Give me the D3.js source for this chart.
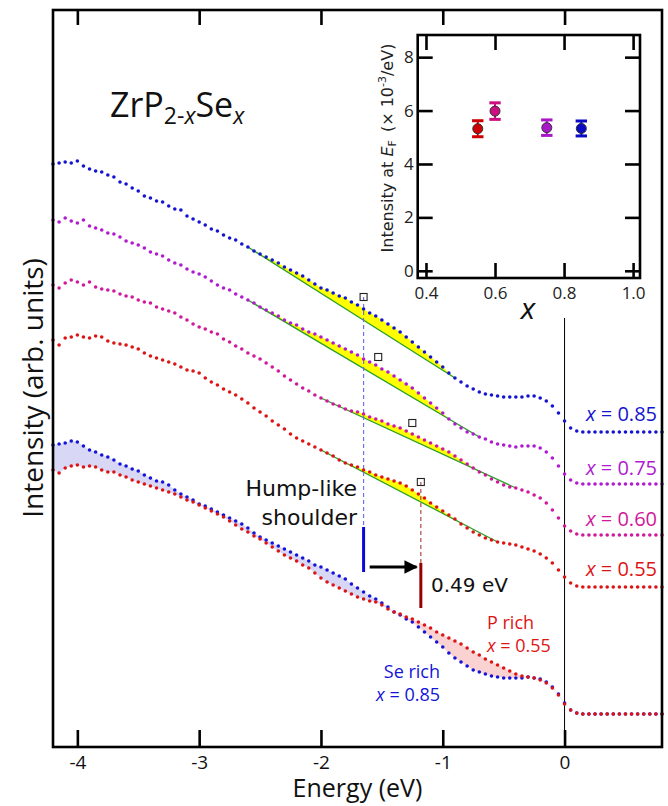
<!DOCTYPE html>
<meta charset="utf-8">

<!-- Load d3.js -->
<script src="https://d3js.org/d3.v7.min.js"></script>

<style>
body { margin: 0; background: #fff; }
text { font-family: "Open Sans", sans-serif; }
.ann { font-family: "DejaVu Sans", sans-serif; }
</style>

<div id="my_dataviz"></div>

<script>

// binding energy grid (eV)
var energy = [-4.2,-4.15,-4.1,-4.05,-4,-3.95,-3.9,-3.85,-3.8,-3.75,-3.7,-3.65,-3.6,-3.55,-3.5,-3.45,-3.4,-3.35,-3.3,-3.25,
  -3.2,-3.15,-3.1,-3.05,-3,-2.95,-2.9,-2.85,-2.8,-2.75,-2.7,-2.65,-2.6,-2.55,-2.5,-2.45,-2.4,-2.35,-2.3,-2.25,
  -2.2,-2.15,-2.1,-2.05,-2,-1.95,-1.9,-1.85,-1.8,-1.75,-1.7,-1.65,-1.6,-1.55,-1.5,-1.45,-1.4,-1.35,-1.3,-1.25,
  -1.2,-1.15,-1.1,-1.05,-1,-0.95,-0.9,-0.85,-0.8,-0.75,-0.7,-0.65,-0.6,-0.55,-0.5,-0.45,-0.4,-0.35,-0.3,-0.25,
  -0.2,-0.15,-0.1,-0.05,0,0.05,0.1,0.15,0.2,0.25,0.3,0.35,0.4,0.45,0.5,0.55,0.6,0.65,0.7,0.75,0.8];

// stacked spectra (arb. units, offsets included)
var int085 = [583,584,585,584,586,581,578,576,575,572,570,565,563,559,556,551,549,546,545,541,
  538,537,531,528,525,522,518,516,512,509,507,503,500,496,493,490,487,484,480,477,
  474,471,467,463,459,457,454,451,449,445,442,438,434,431,427,423,419,415,410,405,
  400,395,390,385,380,374,369,365,361,358,355,353,352,351,350,350,350,350,351,351,
  349,346,341,334,326,319,316,315,315,315,315,315,315,315,315,315,315,315,315,315,315];
var int075 = [527,525,529,526,524,527,521,519,517,514,513,510,506,504,502,499,495,493,491,487,
  484,482,478,475,473,470,466,462,459,457,453,450,447,444,440,437,434,431,427,424,
  422,418,415,413,410,407,404,401,398,395,392,388,385,382,378,375,371,367,363,359,
  354,349,344,339,334,328,323,319,315,313,310,308,305,303,302,301,300,301,301,301,
  299,295,289,281,273,267,264,263,263,263,263,263,263,263,263,263,263,263,263,263,263];
var int060 = [462,459,464,467,465,462,465,460,458,457,456,453,451,450,447,445,444,440,438,436,
  434,430,427,423,420,418,415,413,408,405,401,398,394,391,388,384,380,376,371,367,
  363,359,356,352,349,346,343,341,338,336,335,333,330,328,326,323,321,319,316,313,
  310,307,304,301,298,295,291,287,283,279,275,272,268,265,262,260,259,257,255,252,
  249,244,237,229,221,216,213,212,212,212,212,212,212,212,212,212,212,212,212,212,212];
var int055 = [407,402,409,410,412,410,409,411,410,406,404,403,402,400,398,394,391,389,387,385,
  383,380,377,376,374,369,365,362,358,355,352,348,344,339,335,331,326,322,318,313,
  309,306,303,300,297,294,291,287,284,282,280,277,275,272,270,268,266,264,261,257,
  253,249,244,240,236,232,228,223,219,215,212,209,207,205,204,203,202,200,198,196,
  193,189,184,177,170,164,161,160,160,160,160,160,160,160,160,160,160,160,160,160,160];

// overlaid comparison, Se rich (x = 0.85) and P rich (x = 0.55)
var intSeRich = [302,303,304,306,305,301,297,295,292,290,287,283,281,278,276,272,269,266,265,262,
  257,253,250,247,243,241,238,235,232,229,226,223,219,214,210,207,204,201,198,195,
  192,189,186,182,180,177,174,171,168,163,159,155,151,148,144,140,135,132,128,125,
  120,115,110,105,100,94,89,85,81,77,75,73,71,70,69,69,69,69,70,69,
  68,65,60,53,44,37,34,33,33,33,33,33,33,33,33,33,33,33,33,33,33];
var intPRich = [277,274,279,281,282,280,281,280,277,275,275,272,270,267,265,263,261,259,257,255,
  253,250,247,245,242,239,236,233,230,226,222,218,215,211,208,204,200,196,192,189,
  186,182,179,174,169,165,162,159,156,153,150,148,146,145,142,138,135,133,130,128,
  125,122,119,115,112,109,106,103,99,95,92,88,85,82,79,76,73,71,70,69,
  67,64,59,52,43,37,34,33,33,33,33,33,33,33,33,33,33,33,33,33,33];

var curveLabels = ["0.85", "0.75", "0.60", "0.55"];
var curveColors = ["#1414d0", "#b01ad0", "#d0189a", "#dd1414"];

// linear background under the hump-like shoulder
var bgStartE = [-2.60, -2.60, -2.00, -2.00];
var bgEndE = [-0.90, -0.70, -0.40, -0.55];
var bgStartI = [500, 447, 349, 297];
var bgEndI = [369, 310, 259, 205];

// shoulder positions (open squares)
var shoulderE = [-1.65, -1.53, -1.25, -1.18];
var shoulderI = [450, 390, 324, 265];

var xTicks = [-4, -3, -2, -1, 0];

// inset: intensity at E_F vs x
var insetX = [0.55, 0.60, 0.75, 0.85];
var insetY = [5.32, 5.98, 5.36, 5.33];
var insetErr = [0.30, 0.31, 0.29, 0.28];
var insetColors = ["#cc0000", "#cc1080", "#a818c8", "#0a0ac4"];
var insetXTicks = [0.4, 0.6, 0.8, 1.0];
var insetYTicks = [0, 2, 4, 6, 8];

var W = 668, H = 806;
var margin = {left: 53, right: 662, top: 10, bottom: 747};

var svg = d3.select("#my_dataviz")
  .append("svg")
    .attr("width", W)
    .attr("height", H);

var x = d3.scaleLinear().domain([-4.2, 0.8]).range([margin.left, margin.right]);
var y = d3.scaleLinear().domain([0, 737]).range([margin.bottom, margin.top]);

var stacked = [int085, int075, int060, int055];

// fills between Se rich / P rich curves
var pairs = energy.map(function(e, i) { return {e: e, se: intSeRich[i], p: intPRich[i]}; });
svg.append("path")
  .datum(pairs)
  .attr("fill", "#d8d8f6")
  .attr("d", d3.area()
    .x(function(d) { return x(d.e); })
    .y0(function(d) { return y(d.p); })
    .y1(function(d) { return y(Math.max(d.se, d.p)); }));
svg.append("path")
  .datum(pairs)
  .attr("fill", "#fbd2d2")
  .attr("d", d3.area()
    .x(function(d) { return x(d.e); })
    .y0(function(d) { return y(d.se); })
    .y1(function(d) { return y(Math.max(d.se, d.p)); }));

// yellow hump area + green background line
stacked.forEach(function(vals, k) {
  var bg = function(e) { return bgStartI[k] + (bgEndI[k] - bgStartI[k]) * (e - bgStartE[k]) / (bgEndE[k] - bgStartE[k]); };
  var pts = [];
  energy.forEach(function(e, i) {
    if (e >= bgStartE[k] - 1e-6 && e <= bgEndE[k] + 1e-6) pts.push({e: e, v: vals[i]});
  });
  svg.append("path")
    .datum(pts)
    .attr("fill", "#ffff00")
    .attr("d", d3.area()
      .x(function(d) { return x(d.e); })
      .y0(function(d) { return y(bg(d.e)); })
      .y1(function(d) { return y(Math.max(d.v, bg(d.e))); }));
  svg.append("line")
    .attr("x1", x(bgStartE[k])).attr("y1", y(bgStartI[k]))
    .attr("x2", x(bgEndE[k])).attr("y2", y(bgEndI[k]))
    .attr("stroke", "#2aa02a")
    .attr("stroke-width", 1.3);
});

// E_F line
svg.append("line")
  .attr("x1", x(0)).attr("x2", x(0))
  .attr("y1", y(429)).attr("y2", y(0))
  .attr("stroke", "#000").attr("stroke-width", 1);

// shoulder markers: dashed lines and bars
svg.append("line")
  .attr("x1", x(shoulderE[0])).attr("x2", x(shoulderE[0]))
  .attr("y1", y(shoulderI[0])).attr("y2", y(220))
  .attr("stroke", "#6f6ff0").attr("stroke-width", 1.2).attr("stroke-dasharray", "4,3");
svg.append("line")
  .attr("x1", x(shoulderE[0])).attr("x2", x(shoulderE[0]))
  .attr("y1", y(220)).attr("y2", y(175))
  .attr("stroke", "#0a0ad8").attr("stroke-width", 3);
svg.append("line")
  .attr("x1", x(shoulderE[3])).attr("x2", x(shoulderE[3]))
  .attr("y1", y(shoulderI[3])).attr("y2", y(184))
  .attr("stroke", "#b04848").attr("stroke-width", 1.2).attr("stroke-dasharray", "4,3");
svg.append("line")
  .attr("x1", x(shoulderE[3])).attr("x2", x(shoulderE[3]))
  .attr("y1", y(184)).attr("y2", y(139))
  .attr("stroke", "#990000").attr("stroke-width", 3);

// arrow
svg.append("defs").append("marker")
  .attr("id", "arrowhead")
  .attr("viewBox", "0 0 10 10")
  .attr("refX", 9).attr("refY", 5)
  .attr("markerWidth", 5).attr("markerHeight", 4.5)
  .attr("markerUnits", "strokeWidth")
  .attr("orient", "auto")
  .append("path").attr("d", "M0,0 L10,5 L0,10 z").attr("fill", "#000");
svg.append("line")
  .attr("x1", x(-1.60)).attr("x2", x(-1.215))
  .attr("y1", y(180)).attr("y2", y(180))
  .attr("stroke", "#000").attr("stroke-width", 3)
  .attr("marker-end", "url(#arrowhead)");

// dots
var allCurves = stacked.map(function(v, k) { return {vals: v, color: curveColors[k]}; });
allCurves.push({vals: intSeRich, color: "#1414d8"});
allCurves.push({vals: intPRich, color: "#dd1414"});
allCurves.forEach(function(c) {
  svg.append("g")
    .selectAll("circle")
    .data(energy)
    .enter()
    .append("circle")
      .attr("cx", function(e) { return x(e); })
      .attr("cy", function(e, i) { return y(c.vals[i]); })
      .attr("r", 1.8)
      .style("fill", c.color);
});

// open squares
svg.append("g")
  .selectAll("rect")
  .data(shoulderE)
  .enter()
  .append("rect")
    .attr("x", function(e) { return x(e) - 3.5; })
    .attr("y", function(e, i) { return y(shoulderI[i]) - 3.5; })
    .attr("width", 7).attr("height", 7)
    .attr("fill", "none").attr("stroke", "#222").attr("stroke-width", 1.1);

// frame
svg.append("rect")
  .attr("x", margin.left).attr("y", margin.top)
  .attr("width", margin.right - margin.left).attr("height", margin.bottom - margin.top)
  .attr("fill", "none").attr("stroke", "#000").attr("stroke-width", 2.6);

// Add X axis (inward ticks)
var xAxis = svg.append("g")
  .attr("transform", "translate(0," + margin.bottom + ")")
  .call(d3.axisBottom(x).tickValues(xTicks).tickSize(-17).tickPadding(9).tickFormat(function(d) { return d < 0 ? "-" + (-d) : d; }));
xAxis.select(".domain").remove();
xAxis.selectAll(".tick line").attr("stroke-width", 2.6);
xAxis.selectAll(".tick text").attr("font-size", 19).attr("font-family", "Open Sans").attr("fill", "#111");

var xTop = svg.append("g")
  .attr("transform", "translate(0," + margin.top + ")")
  .call(d3.axisTop(x).tickValues(xTicks).tickSize(-15).tickFormat(""));
xTop.select(".domain").remove();
xTop.selectAll(".tick line").attr("stroke-width", 2.6);

svg.append("text")
  .attr("x", (margin.left + margin.right) / 2).attr("y", 797)
  .attr("text-anchor", "middle").attr("font-size", 25).attr("fill", "#111")
  .text("Energy (eV)");
svg.append("text")
  .attr("transform", "translate(43,388) rotate(-90)")
  .attr("text-anchor", "middle").attr("font-size", 28).attr("fill", "#111")
  .text("Intensity (arb. units)");

// title
var title = svg.append("text").attr("x", 110).attr("y", 117).attr("font-size", 34).attr("fill", "#111");
title.append("tspan").text("ZrP");
title.append("tspan").attr("font-size", 23).attr("dy", 7).text("2-");
title.append("tspan").attr("font-size", 23).attr("font-style", "italic").text("x");
title.append("tspan").attr("dy", -7).text("Se");
title.append("tspan").attr("font-size", 23).attr("dy", 7).attr("font-style", "italic").text("x");

// curve labels on the right
var labelBase = [421, 475, 526, 576];
curveLabels.forEach(function(lab, k) {
  var t = svg.append("text")
    .attr("x", 657).attr("y", labelBase[k])
    .attr("text-anchor", "end").attr("font-size", 20).attr("fill", curveColors[k]);
  t.append("tspan").attr("font-style", "italic").text("x");
  t.append("tspan").text(" = " + lab);
});

// annotations
svg.append("text").attr("class", "ann")
  .attr("x", 357).attr("y", 496).attr("text-anchor", "end").attr("font-size", 22).attr("fill", "#111")
  .text("Hump-like");
svg.append("text").attr("class", "ann")
  .attr("x", 357).attr("y", 525).attr("text-anchor", "end").attr("font-size", 22).attr("fill", "#111")
  .text("shoulder");
svg.append("text").attr("class", "ann")
  .attr("x", 431).attr("y", 592).attr("font-size", 20).attr("fill", "#111")
  .text("0.49 eV");

svg.append("text")
  .attr("x", 487).attr("y", 629).attr("font-size", 18).attr("fill", "#dd1414")
  .text("P rich");
var pl = svg.append("text")
  .attr("x", 487).attr("y", 652).attr("font-size", 18).attr("fill", "#dd1414");
pl.append("tspan").attr("font-style", "italic").text("x");
pl.append("tspan").text(" = 0.55");

svg.append("text")
  .attr("x", 440).attr("y", 678).attr("text-anchor", "end").attr("font-size", 18).attr("fill", "#1414d8")
  .text("Se rich");
var sl = svg.append("text")
  .attr("x", 440).attr("y", 701).attr("text-anchor", "end").attr("font-size", 18).attr("fill", "#1414d8");
sl.append("tspan").attr("font-style", "italic").text("x");
sl.append("tspan").text(" = 0.85");

// ---- inset ----
var iL = 417.7, iR = 640, iT = 35, iB = 278;
var ix = d3.scaleLinear().domain([0.376, 1.02]).range([iL, iR]);
var iy = d3.scaleLinear().domain([-0.27, 8.83]).range([iB, iT]);

svg.append("rect")
  .attr("x", iL).attr("y", iT).attr("width", iR - iL).attr("height", iB - iT)
  .attr("fill", "#fff").attr("stroke", "#000").attr("stroke-width", 2.6);

var ib = svg.append("g").attr("transform", "translate(0," + iB + ")")
  .call(d3.axisBottom(ix).tickValues(insetXTicks).tickSize(-15).tickPadding(9).tickFormat(d3.format(".1f")));
var it = svg.append("g").attr("transform", "translate(0," + iT + ")")
  .call(d3.axisTop(ix).tickValues(insetXTicks).tickSize(-15).tickFormat(""));
var il = svg.append("g").attr("transform", "translate(" + iL + ",0)")
  .call(d3.axisLeft(iy).tickValues(insetYTicks).tickSize(-15).tickPadding(4));
var ir = svg.append("g").attr("transform", "translate(" + iR + ",0)")
  .call(d3.axisRight(iy).tickValues(insetYTicks).tickSize(-15).tickFormat(""));
[ib, it, il, ir].forEach(function(g) {
  g.select(".domain").remove();
  g.selectAll(".tick line").attr("stroke-width", 2.6);
  g.selectAll(".tick text").attr("font-size", 17).attr("font-family", "Liberation Sans").attr("fill", "#222");
});

// error bars
insetX.forEach(function(v, i) {
  var g = svg.append("g").attr("stroke", insetColors[i]).attr("stroke-width", 3);
  g.append("line").attr("x1", ix(v)).attr("x2", ix(v))
    .attr("y1", iy(insetY[i] - insetErr[i])).attr("y2", iy(insetY[i] + insetErr[i])).attr("stroke-width", 2);
  g.append("line").attr("x1", ix(v) - 5.7).attr("x2", ix(v) + 5.7)
    .attr("y1", iy(insetY[i] - insetErr[i])).attr("y2", iy(insetY[i] - insetErr[i]));
  g.append("line").attr("x1", ix(v) - 5.7).attr("x2", ix(v) + 5.7)
    .attr("y1", iy(insetY[i] + insetErr[i])).attr("y2", iy(insetY[i] + insetErr[i]));
});
svg.append("g")
  .selectAll("circle")
  .data(insetX)
  .enter()
  .append("circle")
    .attr("cx", function(d) { return ix(d); })
    .attr("cy", function(d, i) { return iy(insetY[i]); })
    .attr("r", 5)
    .style("fill", function(d, i) { return insetColors[i]; })
    .style("stroke", "#333").style("stroke-width", 1);

svg.append("text")
  .attr("x", 528).attr("y", 319).attr("text-anchor", "middle")
  .attr("font-size", 30).attr("font-style", "italic").attr("fill", "#111")
  .text("x");

var iyl = svg.append("text").attr("class", "ann")
  .attr("transform", "translate(393,148) rotate(-90)")
  .attr("text-anchor", "middle").attr("font-size", 16).attr("fill", "#222");
iyl.append("tspan").text("Intensity at ");
iyl.append("tspan").attr("font-style", "italic").text("E");
iyl.append("tspan").attr("font-size", 11).attr("dy", 3).text("F");
iyl.append("tspan").attr("dy", -3).text("\u2002(\u00d7 10");
iyl.append("tspan").attr("font-size", 11).attr("dy", -7).text("-3");
iyl.append("tspan").attr("dy", 7).text("/eV)");

</script>
